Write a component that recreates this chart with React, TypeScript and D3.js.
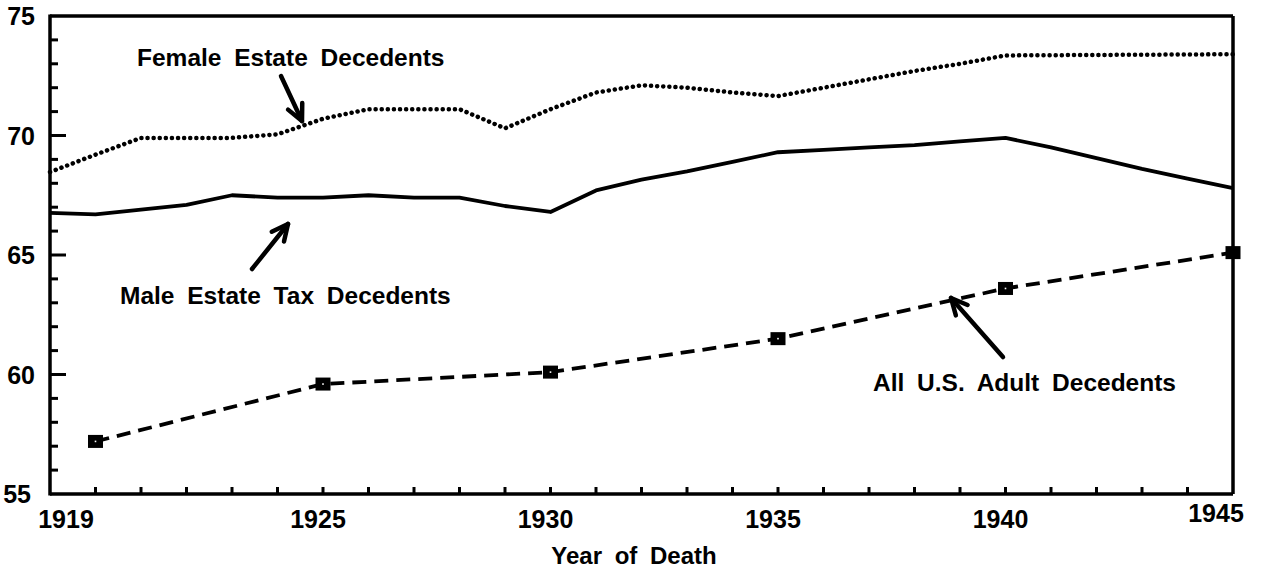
import React from 'react';
import * as d3 from 'd3';

// values (mean age at death)
const femaleYears = [1919, 1920, 1921, 1922, 1923, 1924, 1925, 1926, 1927, 1928, 1929, 1930, 1931, 1932, 1933, 1934, 1935, 1936, 1937, 1938, 1939, 1940, 1945];
const femaleAges = [68.47, 69.2, 69.9, 69.9, 69.9, 70.05, 70.7, 71.1, 71.1, 71.1, 70.3, 71.1, 71.8, 72.1, 72.0, 71.8, 71.65, 72.0, 72.35, 72.7, 73.0, 73.35, 73.4];

const maleYears = [1919, 1920, 1921, 1922, 1923, 1924, 1925, 1926, 1927, 1928, 1929, 1930, 1931, 1932, 1933, 1934, 1935, 1936, 1937, 1938, 1939, 1940, 1941, 1942, 1943, 1944, 1945];
const maleAges = [66.76, 66.7, 66.9, 67.1, 67.5, 67.4, 67.4, 67.5, 67.4, 67.4, 67.05, 66.8, 67.7, 68.15, 68.5, 68.9, 69.3, 69.4, 69.5, 69.6, 69.75, 69.9, 69.5, 69.05, 68.6, 68.2, 67.8];

const allYears = [1920, 1925, 1930, 1935, 1940, 1945];
const allAges = [57.2, 59.6, 60.1, 61.5, 63.6, 65.1];

const xTickLabels = [1919, 1925, 1930, 1935, 1940, 1945];
const yTickLabels = [55, 60, 65, 70, 75];

const W = 1268;
const H = 575;
const font = '"Liberation Sans", Arial, Helvetica, sans-serif';

const Arrow = ({ x1, y1, x2, y2 }: { x1: number; y1: number; x2: number; y2: number }) => {
  // simple open arrowhead at (x2, y2)
  const a = Math.atan2(y2 - y1, x2 - x1);
  const len = 18;
  const spread = 0.45;
  const p1 = [x2 - len * Math.cos(a - spread), y2 - len * Math.sin(a - spread)];
  const p2 = [x2 - len * Math.cos(a + spread), y2 - len * Math.sin(a + spread)];
  return (
    <g stroke="#000" strokeWidth={4.5} fill="none" strokeLinecap="round" strokeLinejoin="round">
      <line x1={x1} y1={y1} x2={x2} y2={y2} />
      <polyline points={`${p1[0]},${p1[1]} ${x2},${y2} ${p2[0]},${p2[1]}`} />
    </g>
  );
};

export default function App() {
  const x = d3.scaleLinear().domain([1919, 1945]).range([50, 1233]);
  const y = d3.scaleLinear().domain([55, 75]).range([494, 16]);

  const line = d3
    .line<[number, number]>()
    .x((d) => x(d[0]))
    .y((d) => y(d[1]));

  const female = femaleYears.map((yr, i) => [yr, femaleAges[i]] as [number, number]);
  const male = maleYears.map((yr, i) => [yr, maleAges[i]] as [number, number]);
  const all = allYears.map((yr, i) => [yr, allAges[i]] as [number, number]);

  const minorY = d3.range(56, 75);
  const minorX = d3.range(1920, 1945);

  const textStyle = { fontFamily: font, fontWeight: 700, wordSpacing: '6px' } as React.CSSProperties;

  return (
    <svg
      width={W}
      height={H}
      style={{ position: 'absolute', left: 0, top: 0, background: '#fff', display: 'block' }}
    >
      <rect width={W} height={H} fill="#fff" />

      {/* lines */}
      <path d={line(male) || ''} fill="none" stroke="#000" strokeWidth={3.8} strokeLinejoin="round" />
      <path
        d={line(female) || ''}
        fill="none"
        stroke="#000"
        strokeWidth={4.5}
        strokeLinecap="round"
        strokeDasharray="0.1 6"
      />
      <path d={line(all) || ''} fill="none" stroke="#000" strokeWidth={3.8} strokeDasharray="14 8" />
      {all.map((d, i) => (
        <g key={i}>
          <rect x={x(d[0]) - 7.5} y={y(d[1]) - 6.5} width={15} height={13} fill="#000" />
          <rect x={x(d[0]) - 0.8} y={y(d[1]) - 0.8} width={1.6} height={1.6} fill="#fff" />
        </g>
      ))}

      {/* frame */}
      <g stroke="#000" fill="none">
        <line x1={x(1919)} y1={y(75)} x2={x(1945)} y2={y(75)} strokeWidth={3.5} />
        <line x1={x(1945)} y1={y(75)} x2={x(1945)} y2={y(55)} strokeWidth={3.5} />
        <line x1={x(1919)} y1={y(75) - 1.5} x2={x(1919)} y2={y(55) + 1.5} strokeWidth={3.5} />
        <line x1={x(1919)} y1={y(55)} x2={x(1945)} y2={y(55)} strokeWidth={3.5} />
        {minorY.map((v) => (
          <line key={v} x1={x(1919)} x2={x(1919) + (v % 5 === 0 ? 16 : 8)} y1={y(v)} y2={y(v)} strokeWidth={3} />
        ))}
        {minorX.map((v) => (
          <line key={v} x1={x(v)} x2={x(v)} y1={y(55)} y2={y(55) - 7} strokeWidth={3} />
        ))}
      </g>

      {/* y tick labels */}
      {yTickLabels.map((v) => (
        <text
          key={v}
          x={v === 55 ? 31 : 35}
          y={y(v) + 9}
          textAnchor="end"
          fontSize={25}
          style={textStyle}
        >
          {v}
        </text>
      ))}

      {/* x tick labels */}
      {xTickLabels.map((v) => (
        <text
          key={v}
          x={v === 1919 ? x(v) + 16 : v === 1945 ? x(v) - 17 : x(v) - 5}
          y={v === 1945 ? 522 : 528}
          textAnchor="middle"
          fontSize={25}
          style={textStyle}
        >
          {v}
        </text>
      ))}

      <text x={634} y={564} textAnchor="middle" fontSize={24} style={textStyle}>
        Year of Death
      </text>

      {/* annotations */}
      <text x={137} y={66} fontSize={24.5} style={textStyle}>
        Female Estate Decedents
      </text>
      <Arrow x1={281} y1={76} x2={302} y2={121} />

      <text x={120} y={304} fontSize={24.5} style={textStyle}>
        Male Estate Tax Decedents
      </text>
      <Arrow x1={252} y1={269} x2={288} y2={224} />

      <text x={873} y={391} fontSize={24.5} style={textStyle}>
        All U.S. Adult Decedents
      </text>
      <Arrow x1={1003} y1={357} x2={951} y2={298} />
    </svg>
  );
}
